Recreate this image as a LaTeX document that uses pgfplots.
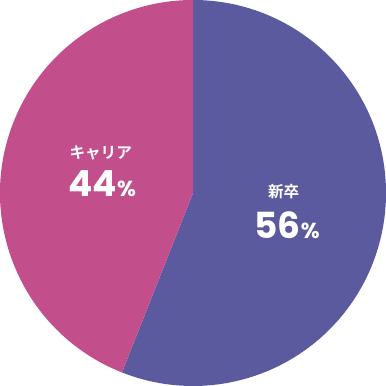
\documentclass[border=0pt]{standalone}
\usepackage{pgfplots}
\pgfplotsset{compat=1.18}
\usepackage{fontspec}
\setmainfont{Poppins}
\newfontfamily\jp{Noto Sans CJK JP}[BoldFont={* Bold}]
\definecolor{shinsotsu}{HTML}{5B5A9E}
\definecolor{career}{HTML}{C24F8B}

% shares in percent
\def\valShinsotsu{56}
\def\valCareer{44}

\begin{document}
\begin{tikzpicture}
\begin{axis}[
  width=10cm, height=10cm, scale only axis,
  xmin=-1, xmax=1, ymin=-1, ymax=1,
  hide axis, clip=false,
]
  % slices start at 12 o'clock and run clockwise
  \pgfmathsetmacro{\endA}{90-3.6*\valShinsotsu}
  \fill[shinsotsu] (axis cs:0,0) -- (axis cs:0,1)
     arc[start angle=90, end angle=\endA, radius=1] -- cycle;
  \fill[career] (axis cs:0,0) -- (axis cs:{cos(\endA)},{sin(\endA)})
     arc[start angle=\endA, end angle=-270, radius=1] -- cycle;

  \node[white, font=\jp\bfseries\fontsize{11.5}{12}\selectfont] at (axis cs:-0.478,0.207) {キャリア};
  \node[white, font=\bfseries\fontsize{26.5}{27}\selectfont] at (axis cs:-0.47,0.05) {\valCareer{\fontsize{16}{17}\selectfont\%}};
  \node[white, font=\jp\bfseries\fontsize{11.5}{12}\selectfont] at (axis cs:0.47,0.005) {新卒};
  \node[white, font=\bfseries\fontsize{26.5}{27}\selectfont] at (axis cs:0.488,-0.165) {\valShinsotsu{\fontsize{16}{17}\selectfont\%}};
\end{axis}
% the picture is exactly the square around the pie
\pgfresetboundingbox
\path (current axis.south west) rectangle (current axis.north east);
\end{tikzpicture}
\end{document}
